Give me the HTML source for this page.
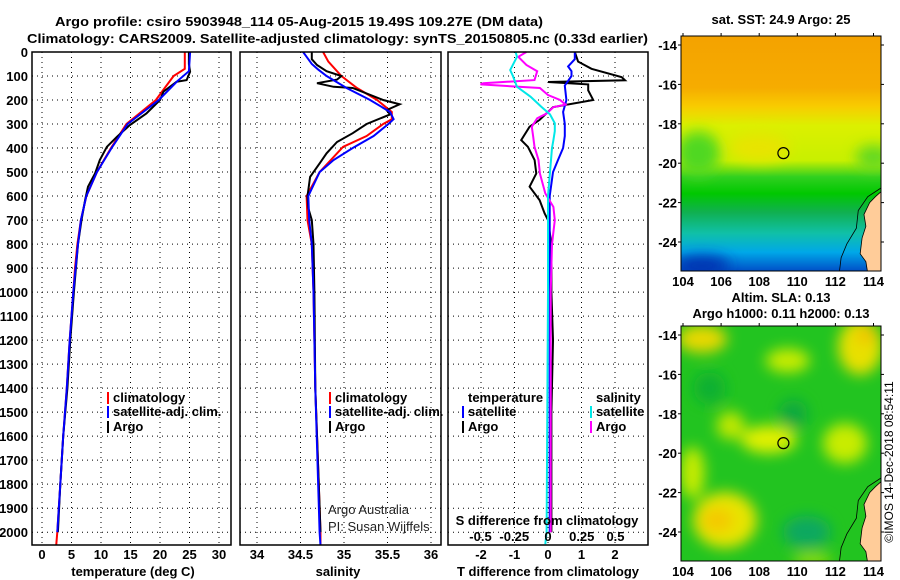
<!DOCTYPE html>
<html><head><meta charset="utf-8">
<style>
html,body{margin:0;padding:0;background:#fff;}
svg{display:block;font-family:"Liberation Sans",Arial,sans-serif;}
.b{font-weight:bold;font-size:13px;}
</style></head>
<body>
<svg id="c" width="900" height="580" viewBox="0 0 900 580">
<defs>
<clipPath id="m1c"><rect x="681" y="36" width="200" height="235"/></clipPath>
<clipPath id="m2c"><rect x="681" y="326" width="200" height="235"/></clipPath>
<filter id="bl" x="-50%" y="-50%" width="200%" height="200%"><feGaussianBlur stdDeviation="7"/></filter>
<linearGradient id="sst" x1="0" y1="0" x2="0" y2="1">
<stop offset="0" stop-color="#f4a200"/><stop offset="0.22" stop-color="#f6ac00"/>
<stop offset="0.3" stop-color="#f8cc00"/><stop offset="0.38" stop-color="#dcf000"/>
<stop offset="0.53" stop-color="#c8f000"/><stop offset="0.6" stop-color="#30d020"/>
<stop offset="0.67" stop-color="#00c800"/><stop offset="0.75" stop-color="#10b050"/>
<stop offset="0.84" stop-color="#10c0a8"/><stop offset="0.92" stop-color="#00a8e8"/>
<stop offset="1" stop-color="#0050c8"/></linearGradient>
</defs>
<text class="b" x="55" y="26" font-size="15" textLength="488" lengthAdjust="spacingAndGlyphs">Argo profile: csiro 5903948_114 05-Aug-2015 19.49S 109.27E (DM data)</text>
<text class="b" x="27" y="43" font-size="15" textLength="621" lengthAdjust="spacingAndGlyphs">Climatology: CARS2009. Satellite-adjusted climatology: synTS_20150805.nc (0.33d earlier)</text>
<g id="g"></g>
</svg>
<script>
// ---- data ----
const depthTicks=[0,100,200,300,400,500,600,700,800,900,1000,1100,1200,1300,1400,1500,1600,1700,1800,1900,2000];
const tempTicks=[0,5,10,15,20,25,30];
const salTicks=[34,34.5,35,35.5,36];
const salTickLabels=["34","34.5","35","35.5","36"];
const tdiffTicks=[-2,-1,0,1,2];
const sdiffTicks=[-0.5,-0.25,0,0.25,0.5];
const sdiffTickLabels=["-0.5","-0.25","0","0.25","0.5"];

const tArgoDepth=[0,50,82,117,124,165,200,256,304,353,395,450,505,561,617,700,800,1000,1200,1400,1600,1800,2000];
const tArgo=[24.9,24.9,25.1,24.5,22.8,20.6,20.0,17.7,14.9,12.7,11.0,9.8,9.0,7.8,7.3,6.7,6.1,5.4,4.8,4.3,3.6,3.1,2.7];
const tClimDepth=[0,70,100,150,200,300,400,500,600,700,800,900,1000,1200,1400,1600,1800,2000,2055];
const tClim=[24.2,24.2,22.3,20.8,19.3,14.3,11.7,9.3,7.5,6.6,6.0,5.6,5.3,4.7,4.2,3.6,3.1,2.6,2.4];
const tSatDepth=[0,80,120,200,300,400,500,600,700,800,900,1000,1200,1400,1600,1800,2000];
const tSat=[25.1,24.9,23.0,19.8,14.5,11.8,9.3,7.5,6.6,6.1,5.7,5.3,4.7,4.2,3.6,3.1,2.6];

const sArgoDepth=[0,30,54,80,100,115,130,145,150,200,218,242,260,300,338,375,422,464,520,600,650,700,800,1000,1400,2000];
const sArgo=[34.63,34.63,34.69,34.80,34.97,34.92,34.69,34.88,35.10,35.45,35.64,35.49,35.53,35.26,35.10,34.92,34.80,34.72,34.61,34.58,34.59,34.63,34.65,34.66,34.67,34.73];
const sClimDepth=[0,40,100,150,200,250,280,300,350,395,500,600,700,800,1000,1400,2000,2055];
const sClim=[34.76,34.82,34.97,35.15,35.38,35.55,35.55,35.45,35.26,34.99,34.72,34.57,34.58,34.63,34.65,34.67,34.73,34.73];
const sSatDepth=[0,20,50,72,100,150,200,250,280,300,350,400,450,500,600,700,800,1000,1400,2000,2055];
const sSat=[34.53,34.57,34.63,34.70,34.80,35.03,35.30,35.53,35.57,35.51,35.34,35.10,34.88,34.72,34.59,34.60,34.63,34.65,34.67,34.72,34.73];

const dTArgoDepth=[0,40,70,105,118,125,135,160,186,200,230,283,311,367,395,450,506,561,617,672,700,800,1000,1200,1500,2000];
const dTArgo=[0.8,0.9,1.3,2.2,2.3,0.0,1.2,1.2,1.3,1.35,0.15,-0.25,-0.55,-0.8,-0.6,-0.4,-0.35,-0.55,-0.25,-0.1,0.0,0.1,0.1,0.15,0.1,0.1];
const dTSatDepth=[0,30,60,80,100,140,200,250,300,350,400,450,500,600,800,2000];
const dTSat=[0.8,0.8,0.6,0.7,0.7,0.5,0.55,0.45,0.5,0.5,0.45,0.3,0.15,0.05,0.05,0.05];
const dSSatDepth=[0,20,75,100,145,186,228,260,297,330,367,400,600,1000,2000,2050];
const dSSat=[-0.24,-0.23,-0.28,-0.26,-0.23,-0.13,-0.05,0.015,0.05,0.05,0.04,0.03,0.0,0.0,-0.01,-0.02];
const dSArgoDepth=[0,20,54,80,117,130,135,150,179,200,219,230,256,276,311,350,395,450,506,589,645,700,750,800,1000,2000];
const dSArgo=[-0.16,-0.22,-0.16,-0.08,-0.1,-0.48,-0.5,-0.06,0.0,0.09,0.13,0.04,-0.01,-0.08,-0.12,-0.11,-0.1,-0.07,-0.06,-0.02,0.04,0.05,0.04,0.03,0.02,0.02];

const lonTicks=[104,106,108,110,112,114];
const latTicks=[-14,-16,-18,-20,-22,-24];
const argoLon=109.27, argoLat=-19.49;

// ---- helpers ----
const NS="http://www.w3.org/2000/svg";
const G=document.getElementById('g');
function mk(tag,attrs,parent){const e=document.createElementNS(NS,tag);for(const k in attrs)e.setAttribute(k,attrs[k]);(parent||G).appendChild(e);return e;}
function txt(x,y,s,anchor,extra){const e=mk('text',Object.assign({x:x,y:y,'text-anchor':anchor||'middle','class':'b'},extra||{}));e.textContent=s;return e;}
const yD=d=>52+d*0.2401;
const xT=t=>42+t*5.9;
const xS=s=>257+(s-34)*87;
const xDT=t=>548+t*33.5;
const xDS=s=>548+s*135;
const P=[{x:32,w:199,n:'temperature-panel'},{x:240,w:201,n:'salinity-panel'},{x:448,w:200,n:'difference-panel'}];

P.forEach((p,i)=>{
  const gp=mk('g',{});
  
  
  depthTicks.forEach(d=>{mk('line',{x1:p.x,x2:p.x+p.w,y1:yD(d),y2:yD(d),stroke:'#000','stroke-dasharray':'1,4','stroke-width':1},gp);});
  let xs = i==0?tempTicks.map(xT):i==1?salTicks.map(xS):tdiffTicks.map(xDT);
  xs.forEach(x=>{mk('line',{x1:x,x2:x,y1:52,y2:545,stroke:'#000','stroke-dasharray':'1,4','stroke-width':1},gp);});
});
function line(ds,vs,fx,color,name,w){
  const pts=ds.map((d,i)=>fx(vs[i]).toFixed(1)+','+yD(d).toFixed(1)).join(' ');
  const e=mk('polyline',{points:pts,fill:'none',stroke:color,'stroke-width':w||2,'stroke-linejoin':'miter'});
  
  
}
line(tClimDepth,tClim,xT,'#ff0000','temperature-climatology-line');
line(tArgoDepth,tArgo,xT,'#000','temperature-argo-line');
line(tSatDepth,tSat,xT,'#0000ff','temperature-satellite-line');
line(sClimDepth,sClim,xS,'#ff0000','salinity-climatology-line');
line(sArgoDepth,sArgo,xS,'#000','salinity-argo-line');
line(sSatDepth,sSat,xS,'#0000ff','salinity-satellite-line');
line(dTArgoDepth,dTArgo,xDT,'#000','tdiff-argo-line');
line(dTSatDepth,dTSat,xDT,'#0000ff','tdiff-satellite-line');
line(dSArgoDepth,dSArgo,xDS,'#ff00ff','sdiff-argo-line');
line(dSSatDepth,dSSat,xDS,'#00e8e8','sdiff-satellite-line');

P.forEach(p=>{const r=mk('rect',{x:p.x,y:52,width:p.w,height:493,fill:'none',stroke:'#000','stroke-width':1.5});
  
  });

depthTicks.forEach(d=>{const t=txt(28,yD(d)+5,String(d),'end');
  
  });
tempTicks.forEach(v=>{const t=txt(xT(v),559,String(v));
  
  });
salTicks.forEach((v,i)=>{const t=txt(xS(v),559,salTickLabels[i]);
  
  });
tdiffTicks.forEach(v=>{const t=txt(xDT(v),559,String(v));
  
  });
sdiffTicks.forEach((v,i)=>{const t=txt(xDS(v),541,sdiffTickLabels[i]);
  
  });
[[133,'temperature (deg C)','temperature-axis-title'],[338,'salinity','salinity-axis-title'],[548,'T difference from climatology','tdiff-axis-title']].forEach(a=>{
  const t=txt(a[0],576,a[1]);});
{const t=txt(547,525,'S difference from climatology');}

function leg(x,y,color,label,name){
  const gl=mk('g',{});
  
  
  mk('rect',{x:x,y:y-10,width:2,height:12,fill:color},gl);
  const t=mk('text',{x:x+6,y:y,'class':'b'},gl);t.textContent=label;
}
leg(107,402,'#ff0000','climatology','legend-climatology');
leg(107,416,'#0000ff','satellite-adj. clim.','legend-satellite-adj');
leg(107,431,'#000','Argo','legend-argo');
leg(329,402,'#ff0000','climatology','legend-sal-climatology');
leg(329,416,'#0000ff','satellite-adj. clim.','legend-sal-satellite-adj');
leg(329,431,'#000','Argo','legend-sal-argo');
{const t=txt(468,402,'temperature','start');}
{const t=txt(596,402,'salinity','start');}
leg(462,416,'#0000ff','satellite','legend-tdiff-satellite');
leg(462,431,'#000','Argo','legend-tdiff-argo');
leg(590,416,'#00e8e8','satellite','legend-sdiff-satellite');
leg(590,431,'#ff00ff','Argo','legend-sdiff-argo');
{const t=txt(328,514,'Argo Australia','start',{'class':'','font-size':'13','fill':'#222'});}
{const t=txt(328,531,'PI: Susan Wijffels','start',{'class':'','font-size':'13','fill':'#222'});}

function map(y0,lat0y,clip,name,title1,title2,fillFn){
  const gm=mk('g',{});
  
  
  const mx=lon=>683+(lon-104)*19.05;
  const my=lat=>lat0y+(-14-lat)*19.7;
  const inner=mk('g',{'clip-path':'url(#'+clip+')'},gm);
  fillFn(inner,mx,my,y0);
  const land=[[114.8,-21.1],[114.1,-21.7],[113.8,-22.0],[113.5,-22.6],[113.6,-23.2],[113.4,-23.8],[113.3,-24.6],[113.6,-25.0],[113.7,-25.6],[115,-25.6]];
  mk('polygon',{points:land.map(p=>mx(p[0])+','+my(p[1])).join(' '),fill:'#ffcc99',stroke:'#000','stroke-width':0.8},inner);
  const cont=[[114.8,-21.0],[113.7,-21.7],[113.2,-22.4],[113.1,-23.3],[112.6,-24.1],[112.3,-24.8],[112.2,-25.6]];
  mk('polyline',{points:cont.map(p=>mx(p[0])+','+my(p[1])).join(' '),fill:'none',stroke:'#000','stroke-width':0.8},inner);
  mk('rect',{x:681,y:y0,width:200,height:235,fill:'none',stroke:'#000','stroke-width':1},gm);
  const c=mk('circle',{cx:mx(argoLon),cy:my(argoLat),r:5.5,fill:'none',stroke:'#000','stroke-width':1.2},gm);
  
  
  lonTicks.forEach(l=>{mk('line',{x1:mx(l),x2:mx(l),y1:y0-3,y2:y0,stroke:'#000'},gm);
    const t=mk('text',{x:mx(l),y:y0+250,'text-anchor':'middle','class':'b'},gm);t.textContent=l;});
  latTicks.forEach(l=>{mk('line',{x1:678,x2:681,y1:my(l),y2:my(l),stroke:'#000'},gm);
    mk('line',{x1:881,x2:884,y1:my(l),y2:my(l),stroke:'#000'},gm);
    const t=mk('text',{x:677,y:my(l)+5,'text-anchor':'end','class':'b'},gm);t.textContent=l;});
  const t1=mk('text',{x:781,y:title2?y0-24:y0-12,'text-anchor':'middle','class':'b','font-size':'12'},gm);t1.textContent=title1;
  if(title2){const t2=mk('text',{x:781,y:y0-8,'text-anchor':'middle','class':'b','font-size':'12'},gm);t2.textContent=title2;}
}
map(36,45,'m1c','sst-map','sat. SST: 24.9 Argo: 25',null,(g,mx,my,y0)=>{
  mk('rect',{x:681,y:y0,width:200,height:235,fill:'url(#sst)'},g);
  const f=mk('g',{filter:'url(#bl)'},g);
  mk('ellipse',{cx:mx(104.8),cy:my(-19.5),rx:22,ry:22,fill:'#50d820'},f);
  mk('ellipse',{cx:mx(108),cy:my(-19.2),rx:30,ry:14,fill:'#e8e400'},f);
  mk('ellipse',{cx:mx(114),cy:my(-19.7),rx:18,ry:12,fill:'#60d820'},f);
  mk('ellipse',{cx:mx(105),cy:my(-25.2),rx:28,ry:10,fill:'#0030b0'},f);
});
map(326,335,'m2c','sla-map','Altim. SLA: 0.13','Argo h1000: 0.11 h2000: 0.13',(g,mx,my,y0)=>{
  mk('rect',{x:681,y:y0,width:200,height:235,fill:'#22c420'},g);
  const f=mk('g',{filter:'url(#bl)'},g);
  const blobs=[[105,-14.2,25,14,'#e8d800'],[109.5,-15.3,22,12,'#c8ec00'],[113.3,-14.6,22,28,'#e8e000'],[113.6,-14,10,8,'#f0c000'],
    [108.5,-19.3,28,14,'#e0f000'],[106.5,-18.6,14,14,'#c0e800'],[112.5,-19.5,22,20,'#c8ec00'],[104.5,-21,12,26,'#c8ec00'],
    [106.2,-23.4,32,28,'#e8e400'],[105.8,-23.4,16,12,'#f4c800'],[109.8,-18,14,14,'#10a840'],[110.5,-24,24,16,'#10a860'],
    [105.4,-16.7,16,16,'#10b030'],[110.8,-25.4,20,6,'#a0e000']];
  blobs.forEach(b=>mk('ellipse',{cx:mx(b[0]),cy:my(b[1]),rx:b[2],ry:b[3],fill:b[4]},f));
});
{const t=mk('text',{x:0,y:0,'font-size':'12',transform:'translate(893,462) rotate(-90)','text-anchor':'middle'});
 t.textContent='©IMOS 14-Dec-2018 08:54:11';
 
 }
</script>
</body></html>
